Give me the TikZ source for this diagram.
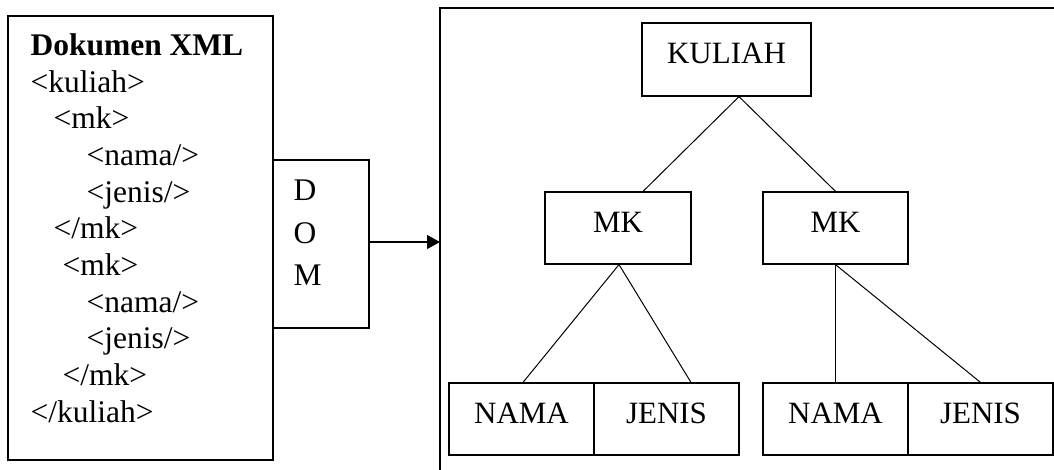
\documentclass[tikz,border=0pt]{standalone}
\usepackage{fontspec}
\setmainfont{Liberation Serif}
\usetikzlibrary{arrows.meta}
\begin{document}
\begin{tikzpicture}[x=1pt,y=-1pt,
  line width=1.2pt,
  box/.style={draw, rectangle, inner sep=0pt, font=\fontsize{31}{36}\selectfont,
    text height=20pt, text depth=12pt},
  xml/.style={anchor=base west, inner sep=0pt, font=\fontsize{31.5}{36}\selectfont},
  conn/.style={line width=1pt}]
\useasboundingbox (0,0) rectangle (1054,469);
% left XML box
\node[draw, inner sep=0pt, minimum width=265pt, minimum height=444pt] (xmlbox) at (140.5,238) {};
\node[xml, font=\fontsize{31.5}{36}\selectfont\bfseries] (l1) at (30,55) {Dokumen XML};
\node[xml] (l2) at (30,92) {<kuliah>};
\node[xml] (l3) at (53,128) {<mk>};
\node[xml] (l4) at (86,165) {<nama/>};
\node[xml] (l5) at (86,202) {<jenis/>};
\node[xml] (l6) at (53,238) {</mk>};
\node[xml] (l7) at (62,275) {<mk>};
\node[xml] (l8) at (86,312) {<nama/>};
\node[xml] (l9) at (86,348) {<jenis/>};
\node[xml] (l10) at (62,385) {</mk>};
\node[xml] (l11) at (30,422) {</kuliah>};
% DOM box
\node[draw, inner sep=0pt, minimum width=96pt, minimum height=168pt] (dom) at (321,244) {};
\node[xml] (d1) at (293,200) {D};
\node[xml] (d2) at (293,243) {O};
\node[xml] (d3) at (293,285) {M};
% frame
\draw (1056,8) -- (440,8) -- (440,471);
\coordinate (fr) at (440,242);
\draw[-{Triangle[length=13pt,width=14pt]}] ([yshift=2pt]dom.east) -- (fr);
% tree
\node[box, minimum width=169pt, minimum height=73pt] (kuliah) at (726.5,59.5) {KULIAH};
\node[box, minimum width=146pt, minimum height=72pt] (mk1) at (618,228) {MK};
\node[box, minimum width=145pt, minimum height=72pt] (mk2) at (835.5,228) {MK};
\node[box, minimum width=145pt, minimum height=72pt] (nama1) at (521.5,419) {NAMA};
\node[box, minimum width=145pt, minimum height=72pt] (jenis1) at (666.5,419) {JENIS};
\node[box, minimum width=145pt, minimum height=72pt] (nama2) at (835.5,419) {NAMA};
\node[box, minimum width=145pt, minimum height=72pt] (jenis2) at (980.5,419) {JENIS};
\draw[conn] ([xshift=12.5pt]kuliah.south) -- ([xshift=25pt]mk1.north);
\draw[conn] ([xshift=12.5pt]kuliah.south) -- (mk2.north);
\draw[conn] ([xshift=1pt]mk1.south) -- ([xshift=1.5pt]nama1.north);
\draw[conn] ([xshift=1pt]mk1.south) -- ([xshift=24.5pt]jenis1.north);
\draw[conn] (mk2.south) -- (nama2.north);
\draw[conn] (mk2.south) -- (jenis2.north);
\end{tikzpicture}
\end{document}
